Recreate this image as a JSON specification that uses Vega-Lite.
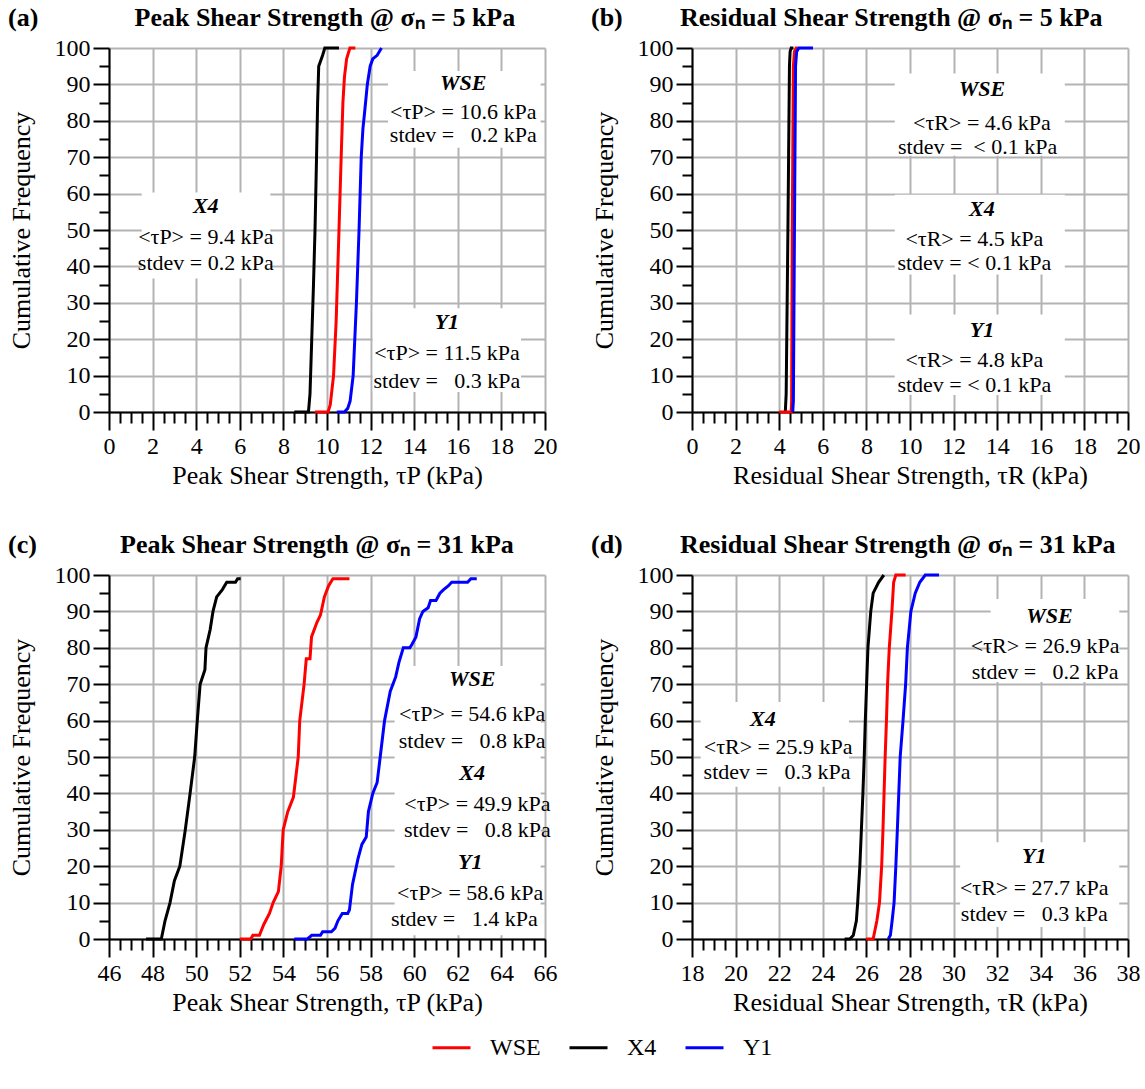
{
  "$schema": "https://vega.github.io/schema/vega-lite/v6.json",
  "background": "white",
  "padding": {"left": 8, "top": 5, "right": 0, "bottom": 10},
  "config": {
    "font": "Liberation Serif, Times New Roman, Times, serif",
    "view": {"stroke": null},
    "axis": {
      "labelFont": "Liberation Serif, Times New Roman, Times, serif", "labelFontSize": 24, "labelColor": "black",
      "titleFont": "Liberation Serif, Times New Roman, Times, serif", "titleFontSize": 26, "titleFontWeight": "normal", "titleColor": "black",
      "domainColor": "black", "domainWidth": 2, "tickColor": "black", "tickWidth": 2,
      "gridColor": "#b3b3b3", "gridWidth": 2, "labelOverlap": false, "labelFlush": false, "labelBound": false
    },
    "axisX": {"tickSize": 18, "labelPadding": 4, "titlePadding": 4},
    "axisY": {"tickSize": 16, "labelPadding": 3, "titlePadding": 20},
    "title": {"font": "Liberation Serif, Times New Roman, Times, serif", "fontSize": 26, "fontWeight": "bold", "anchor": "start", "frame": "bounds", "offset": 5, "color": "black"},
    "legend": {"orient": "none", "legendX": 322, "legendY": 979, "direction": "horizontal", "title": null, "labelFont": "Liberation Serif, Times New Roman, Times, serif", "labelFontSize": 24, "labelColor": "black", "symbolType": "stroke", "symbolSize": 1444, "symbolStrokeWidth": 3, "columnPadding": 22, "labelOffset": 18}
  },
  "datasets": {
    "curves": [
      {"panel":"a","series":"X4","i":0,"tau":8.5,"cf":0},{"panel":"a","series":"X4","i":1,"tau":9.15,"cf":0},{"panel":"a","series":"X4","i":2,"tau":9.22,"cf":5},{"panel":"a","series":"X4","i":3,"tau":9.3,"cf":20},{"panel":"a","series":"X4","i":4,"tau":9.38,"cf":35},{"panel":"a","series":"X4","i":5,"tau":9.45,"cf":50},{"panel":"a","series":"X4","i":6,"tau":9.52,"cf":70},{"panel":"a","series":"X4","i":7,"tau":9.57,"cf":85},{"panel":"a","series":"X4","i":8,"tau":9.62,"cf":95},{"panel":"a","series":"X4","i":9,"tau":9.8,"cf":98},{"panel":"a","series":"X4","i":10,"tau":9.9,"cf":100},{"panel":"a","series":"X4","i":11,"tau":10.55,"cf":100},
      {"panel":"a","series":"WSE","i":0,"tau":9.45,"cf":0},{"panel":"a","series":"WSE","i":1,"tau":10.05,"cf":0},{"panel":"a","series":"WSE","i":2,"tau":10.15,"cf":2},{"panel":"a","series":"WSE","i":3,"tau":10.3,"cf":10},{"panel":"a","series":"WSE","i":4,"tau":10.42,"cf":25},{"panel":"a","series":"WSE","i":5,"tau":10.55,"cf":50},{"panel":"a","series":"WSE","i":6,"tau":10.65,"cf":70},{"panel":"a","series":"WSE","i":7,"tau":10.73,"cf":85},{"panel":"a","series":"WSE","i":8,"tau":10.8,"cf":92},{"panel":"a","series":"WSE","i":9,"tau":10.9,"cf":97},{"panel":"a","series":"WSE","i":10,"tau":11.0,"cf":99},{"panel":"a","series":"WSE","i":11,"tau":11.05,"cf":100},{"panel":"a","series":"WSE","i":12,"tau":11.3,"cf":100},
      {"panel":"a","series":"Y1","i":0,"tau":10.45,"cf":0},{"panel":"a","series":"Y1","i":1,"tau":10.8,"cf":0},{"panel":"a","series":"Y1","i":2,"tau":10.95,"cf":1},{"panel":"a","series":"Y1","i":3,"tau":11.06,"cf":3},{"panel":"a","series":"Y1","i":4,"tau":11.2,"cf":10},{"panel":"a","series":"Y1","i":5,"tau":11.35,"cf":30},{"panel":"a","series":"Y1","i":6,"tau":11.47,"cf":50},{"panel":"a","series":"Y1","i":7,"tau":11.57,"cf":70},{"panel":"a","series":"Y1","i":8,"tau":11.65,"cf":78},{"panel":"a","series":"Y1","i":9,"tau":11.72,"cf":82},{"panel":"a","series":"Y1","i":10,"tau":11.85,"cf":90},{"panel":"a","series":"Y1","i":11,"tau":11.98,"cf":95},{"panel":"a","series":"Y1","i":12,"tau":12.1,"cf":97},{"panel":"a","series":"Y1","i":13,"tau":12.3,"cf":98},{"panel":"a","series":"Y1","i":14,"tau":12.5,"cf":100},
      {"panel":"b","series":"X4","i":0,"tau":4.28,"cf":0},{"panel":"b","series":"X4","i":1,"tau":4.32,"cf":5},{"panel":"b","series":"X4","i":2,"tau":4.4,"cf":50},{"panel":"b","series":"X4","i":3,"tau":4.47,"cf":95},{"panel":"b","series":"X4","i":4,"tau":4.5,"cf":99},{"panel":"b","series":"X4","i":5,"tau":4.55,"cf":100},{"panel":"b","series":"X4","i":6,"tau":4.65,"cf":100},
      {"panel":"b","series":"WSE","i":0,"tau":4.0,"cf":0},{"panel":"b","series":"WSE","i":1,"tau":4.55,"cf":0},{"panel":"b","series":"WSE","i":2,"tau":4.57,"cf":3},{"panel":"b","series":"WSE","i":3,"tau":4.6,"cf":50},{"panel":"b","series":"WSE","i":4,"tau":4.65,"cf":95},{"panel":"b","series":"WSE","i":5,"tau":4.7,"cf":99},{"panel":"b","series":"WSE","i":6,"tau":4.78,"cf":100},{"panel":"b","series":"WSE","i":7,"tau":4.85,"cf":100},
      {"panel":"b","series":"Y1","i":0,"tau":4.62,"cf":0},{"panel":"b","series":"Y1","i":1,"tau":4.65,"cf":3},{"panel":"b","series":"Y1","i":2,"tau":4.7,"cf":50},{"panel":"b","series":"Y1","i":3,"tau":4.75,"cf":95},{"panel":"b","series":"Y1","i":4,"tau":4.8,"cf":99},{"panel":"b","series":"Y1","i":5,"tau":4.9,"cf":100},{"panel":"b","series":"Y1","i":6,"tau":5.55,"cf":100},
      {"panel":"c","series":"X4","i":0,"tau":47.7,"cf":0},{"panel":"c","series":"X4","i":1,"tau":48.4,"cf":0},{"panel":"c","series":"X4","i":2,"tau":48.57,"cf":5},{"panel":"c","series":"X4","i":3,"tau":48.8,"cf":10},{"panel":"c","series":"X4","i":4,"tau":49.0,"cf":16},{"panel":"c","series":"X4","i":5,"tau":49.25,"cf":20},{"panel":"c","series":"X4","i":6,"tau":49.5,"cf":30},{"panel":"c","series":"X4","i":7,"tau":49.72,"cf":40},{"panel":"c","series":"X4","i":8,"tau":49.93,"cf":50},{"panel":"c","series":"X4","i":9,"tau":50.05,"cf":60},{"panel":"c","series":"X4","i":10,"tau":50.18,"cf":70},{"panel":"c","series":"X4","i":11,"tau":50.4,"cf":74},{"panel":"c","series":"X4","i":12,"tau":50.45,"cf":80},{"panel":"c","series":"X4","i":13,"tau":50.64,"cf":85},{"panel":"c","series":"X4","i":14,"tau":50.77,"cf":90},{"panel":"c","series":"X4","i":15,"tau":50.94,"cf":94},{"panel":"c","series":"X4","i":16,"tau":51.2,"cf":96},{"panel":"c","series":"X4","i":17,"tau":51.4,"cf":98},{"panel":"c","series":"X4","i":18,"tau":51.8,"cf":98},{"panel":"c","series":"X4","i":19,"tau":51.9,"cf":99},{"panel":"c","series":"X4","i":20,"tau":52.04,"cf":99},
      {"panel":"c","series":"WSE","i":0,"tau":52.0,"cf":0},{"panel":"c","series":"WSE","i":1,"tau":52.5,"cf":0},{"panel":"c","series":"WSE","i":2,"tau":52.6,"cf":1},{"panel":"c","series":"WSE","i":3,"tau":52.9,"cf":1},{"panel":"c","series":"WSE","i":4,"tau":53.1,"cf":4},{"panel":"c","series":"WSE","i":5,"tau":53.36,"cf":7},{"panel":"c","series":"WSE","i":6,"tau":53.53,"cf":10},{"panel":"c","series":"WSE","i":7,"tau":53.77,"cf":13},{"panel":"c","series":"WSE","i":8,"tau":53.9,"cf":20},{"panel":"c","series":"WSE","i":9,"tau":53.99,"cf":30},{"panel":"c","series":"WSE","i":10,"tau":54.2,"cf":35},{"panel":"c","series":"WSE","i":11,"tau":54.46,"cf":39},{"panel":"c","series":"WSE","i":12,"tau":54.68,"cf":50},{"panel":"c","series":"WSE","i":13,"tau":54.75,"cf":60},{"panel":"c","series":"WSE","i":14,"tau":54.95,"cf":70},{"panel":"c","series":"WSE","i":15,"tau":55.05,"cf":77},{"panel":"c","series":"WSE","i":16,"tau":55.22,"cf":77},{"panel":"c","series":"WSE","i":17,"tau":55.29,"cf":83},{"panel":"c","series":"WSE","i":18,"tau":55.54,"cf":87},{"panel":"c","series":"WSE","i":19,"tau":55.7,"cf":89},{"panel":"c","series":"WSE","i":20,"tau":55.88,"cf":94},{"panel":"c","series":"WSE","i":21,"tau":56.07,"cf":97},{"panel":"c","series":"WSE","i":22,"tau":56.27,"cf":99},{"panel":"c","series":"WSE","i":23,"tau":57.03,"cf":99},
      {"panel":"c","series":"Y1","i":0,"tau":54.5,"cf":0},{"panel":"c","series":"Y1","i":1,"tau":55.1,"cf":0},{"panel":"c","series":"Y1","i":2,"tau":55.3,"cf":1},{"panel":"c","series":"Y1","i":3,"tau":55.7,"cf":1},{"panel":"c","series":"Y1","i":4,"tau":55.8,"cf":2},{"panel":"c","series":"Y1","i":5,"tau":56.2,"cf":2},{"panel":"c","series":"Y1","i":6,"tau":56.37,"cf":3},{"panel":"c","series":"Y1","i":7,"tau":56.5,"cf":5},{"panel":"c","series":"Y1","i":8,"tau":56.7,"cf":7},{"panel":"c","series":"Y1","i":9,"tau":56.95,"cf":7},{"panel":"c","series":"Y1","i":10,"tau":57.03,"cf":8},{"panel":"c","series":"Y1","i":11,"tau":57.17,"cf":15},{"panel":"c","series":"Y1","i":12,"tau":57.42,"cf":22},{"panel":"c","series":"Y1","i":13,"tau":57.6,"cf":26},{"panel":"c","series":"Y1","i":14,"tau":57.8,"cf":28},{"panel":"c","series":"Y1","i":15,"tau":57.9,"cf":35},{"panel":"c","series":"Y1","i":16,"tau":58.1,"cf":40},{"panel":"c","series":"Y1","i":17,"tau":58.3,"cf":43},{"panel":"c","series":"Y1","i":18,"tau":58.44,"cf":50},{"panel":"c","series":"Y1","i":19,"tau":58.64,"cf":60},{"panel":"c","series":"Y1","i":20,"tau":58.9,"cf":68},{"panel":"c","series":"Y1","i":21,"tau":59.15,"cf":72},{"panel":"c","series":"Y1","i":22,"tau":59.3,"cf":76},{"panel":"c","series":"Y1","i":23,"tau":59.5,"cf":80},{"panel":"c","series":"Y1","i":24,"tau":59.8,"cf":80},{"panel":"c","series":"Y1","i":25,"tau":59.9,"cf":81},{"panel":"c","series":"Y1","i":26,"tau":60.08,"cf":83},{"panel":"c","series":"Y1","i":27,"tau":60.25,"cf":88},{"panel":"c","series":"Y1","i":28,"tau":60.4,"cf":90},{"panel":"c","series":"Y1","i":29,"tau":60.64,"cf":91},{"panel":"c","series":"Y1","i":30,"tau":60.75,"cf":93},{"panel":"c","series":"Y1","i":31,"tau":61.0,"cf":93},{"panel":"c","series":"Y1","i":32,"tau":61.18,"cf":95},{"panel":"c","series":"Y1","i":33,"tau":61.35,"cf":96},{"panel":"c","series":"Y1","i":34,"tau":61.56,"cf":97},{"panel":"c","series":"Y1","i":35,"tau":61.72,"cf":98},{"panel":"c","series":"Y1","i":36,"tau":62.45,"cf":98},{"panel":"c","series":"Y1","i":37,"tau":62.6,"cf":99},{"panel":"c","series":"Y1","i":38,"tau":62.87,"cf":99},
      {"panel":"d","series":"X4","i":0,"tau":25.0,"cf":0},{"panel":"d","series":"X4","i":1,"tau":25.24,"cf":0},{"panel":"d","series":"X4","i":2,"tau":25.4,"cf":1},{"panel":"d","series":"X4","i":3,"tau":25.54,"cf":5},{"panel":"d","series":"X4","i":4,"tau":25.6,"cf":10},{"panel":"d","series":"X4","i":5,"tau":25.7,"cf":20},{"panel":"d","series":"X4","i":6,"tau":25.77,"cf":30},{"panel":"d","series":"X4","i":7,"tau":25.84,"cf":40},{"panel":"d","series":"X4","i":8,"tau":25.9,"cf":50},{"panel":"d","series":"X4","i":9,"tau":25.95,"cf":60},{"panel":"d","series":"X4","i":10,"tau":26.07,"cf":80},{"panel":"d","series":"X4","i":11,"tau":26.2,"cf":90},{"panel":"d","series":"X4","i":12,"tau":26.31,"cf":95},{"panel":"d","series":"X4","i":13,"tau":26.56,"cf":98},{"panel":"d","series":"X4","i":14,"tau":26.8,"cf":100},
      {"panel":"d","series":"WSE","i":0,"tau":25.98,"cf":0},{"panel":"d","series":"WSE","i":1,"tau":26.31,"cf":0},{"panel":"d","series":"WSE","i":2,"tau":26.48,"cf":5},{"panel":"d","series":"WSE","i":3,"tau":26.6,"cf":10},{"panel":"d","series":"WSE","i":4,"tau":26.7,"cf":20},{"panel":"d","series":"WSE","i":5,"tau":26.76,"cf":30},{"panel":"d","series":"WSE","i":6,"tau":26.86,"cf":50},{"panel":"d","series":"WSE","i":7,"tau":26.92,"cf":60},{"panel":"d","series":"WSE","i":8,"tau":26.97,"cf":70},{"panel":"d","series":"WSE","i":9,"tau":27.05,"cf":80},{"panel":"d","series":"WSE","i":10,"tau":27.17,"cf":90},{"panel":"d","series":"WSE","i":11,"tau":27.25,"cf":98},{"panel":"d","series":"WSE","i":12,"tau":27.35,"cf":100},{"panel":"d","series":"WSE","i":13,"tau":27.8,"cf":100},
      {"panel":"d","series":"Y1","i":0,"tau":27.0,"cf":0},{"panel":"d","series":"Y1","i":1,"tau":27.1,"cf":1},{"panel":"d","series":"Y1","i":2,"tau":27.18,"cf":5},{"panel":"d","series":"Y1","i":3,"tau":27.27,"cf":10},{"panel":"d","series":"Y1","i":4,"tau":27.35,"cf":20},{"panel":"d","series":"Y1","i":5,"tau":27.42,"cf":30},{"panel":"d","series":"Y1","i":6,"tau":27.55,"cf":50},{"panel":"d","series":"Y1","i":7,"tau":27.68,"cf":60},{"panel":"d","series":"Y1","i":8,"tau":27.8,"cf":70},{"panel":"d","series":"Y1","i":9,"tau":27.88,"cf":80},{"panel":"d","series":"Y1","i":10,"tau":28.04,"cf":90},{"panel":"d","series":"Y1","i":11,"tau":28.24,"cf":95},{"panel":"d","series":"Y1","i":12,"tau":28.45,"cf":98},{"panel":"d","series":"Y1","i":13,"tau":28.7,"cf":100},{"panel":"d","series":"Y1","i":14,"tau":29.33,"cf":100}
    ],
    "notes": [
      {"panel":"a","kind":"name","text":"WSE","tau":16.25,"cf":90.4},{"panel":"a","kind":"stat","text":"<τP> = 10.6 kPa","tau":16.25,"cf":82.5},{"panel":"a","kind":"stat","text":"stdev =\u00a0\u00a0 0.2 kPa","tau":16.25,"cf":76.2},
      {"panel":"a","kind":"name","text":"X4","tau":4.44,"cf":56.7},{"panel":"a","kind":"stat","text":"<τP> = 9.4 kPa","tau":4.44,"cf":48.2},{"panel":"a","kind":"stat","text":"stdev = 0.2 kPa","tau":4.44,"cf":40.8},
      {"panel":"a","kind":"name","text":"Y1","tau":15.5,"cf":24.7},{"panel":"a","kind":"stat","text":"<τP> = 11.5 kPa","tau":15.5,"cf":16.2},{"panel":"a","kind":"stat","text":"stdev =\u00a0\u00a0 0.3 kPa","tau":15.5,"cf":8.5},
      {"panel":"b","kind":"name","text":"WSE","tau":13.3,"cf":88.8},{"panel":"b","kind":"stat","text":"<τR> = 4.6 kPa","tau":13.3,"cf":79.5},{"panel":"b","kind":"stat","text":"stdev =\u00a0 < 0.1 kPa","tau":13.1,"cf":72.9},
      {"panel":"b","kind":"name","text":"X4","tau":13.3,"cf":55.9},{"panel":"b","kind":"stat","text":"<τR> = 4.5 kPa","tau":12.95,"cf":47.4},{"panel":"b","kind":"stat","text":"stdev = < 0.1 kPa","tau":12.95,"cf":40.8},
      {"panel":"b","kind":"name","text":"Y1","tau":13.3,"cf":22.5},{"panel":"b","kind":"stat","text":"<τR> = 4.8 kPa","tau":12.95,"cf":14.2},{"panel":"b","kind":"stat","text":"stdev = < 0.1 kPa","tau":12.95,"cf":7.4},
      {"panel":"c","kind":"name","text":"WSE","tau":62.66,"cf":71.3},{"panel":"c","kind":"stat","text":"<τP> = 54.6 kPa","tau":62.66,"cf":61.7},{"panel":"c","kind":"stat","text":"stdev =\u00a0\u00a0 0.8 kPa","tau":62.66,"cf":54.5},
      {"panel":"c","kind":"name","text":"X4","tau":62.66,"cf":45.7},{"panel":"c","kind":"stat","text":"<τP> = 49.9 kPa","tau":62.9,"cf":37.2},{"panel":"c","kind":"stat","text":"stdev =\u00a0\u00a0 0.8 kPa","tau":62.9,"cf":30.0},
      {"panel":"c","kind":"name","text":"Y1","tau":62.57,"cf":21.2},{"panel":"c","kind":"stat","text":"<τP> = 58.6 kPa","tau":62.57,"cf":12.7},{"panel":"c","kind":"stat","text":"stdev =\u00a0\u00a0 1.4 kPa","tau":62.3,"cf":5.5},
      {"panel":"d","kind":"name","text":"WSE","tau":34.4,"cf":88.7},{"panel":"d","kind":"stat","text":"<τR> = 26.9 kPa","tau":34.2,"cf":80.5},{"panel":"d","kind":"stat","text":"stdev =\u00a0\u00a0 0.2 kPa","tau":34.2,"cf":73.4},
      {"panel":"d","kind":"name","text":"X4","tau":21.25,"cf":60.4},{"panel":"d","kind":"stat","text":"<τR> = 25.9 kPa","tau":21.95,"cf":52.7},{"panel":"d","kind":"stat","text":"stdev =\u00a0\u00a0 0.3 kPa","tau":21.9,"cf":45.9},
      {"panel":"d","kind":"name","text":"Y1","tau":33.7,"cf":22.8},{"panel":"d","kind":"stat","text":"<τR> = 27.7 kPa","tau":33.7,"cf":14.0},{"panel":"d","kind":"stat","text":"stdev =\u00a0\u00a0 0.3 kPa","tau":33.7,"cf":6.9}
    ],
    "boxes": [
      {"panel":"a","tau":12.8,"tau2":19.8,"cf":72.6,"cf2":93.7},{"panel":"a","tau":1.5,"tau2":7.4,"cf":36.7,"cf2":60.3},{"panel":"a","tau":12.1,"tau2":18.9,"cf":5.5,"cf2":28.5},
      {"panel":"b","tau":9.3,"tau2":17.1,"cf":70.4,"cf2":93},{"panel":"b","tau":9.3,"tau2":17.1,"cf":37.8,"cf2":59.7},{"panel":"b","tau":9.3,"tau2":17.1,"cf":4.7,"cf2":26.8},
      {"panel":"c","tau":59.1,"tau2":65.8,"cf":1,"cf2":75},
      {"panel":"d","tau":31.7,"tau2":37.6,"cf":70.6,"cf2":93.4},{"panel":"d","tau":18.4,"tau2":25.2,"cf":41.8,"cf2":65.1},{"panel":"d","tau":30.3,"tau2":37.6,"cf":3.3,"cf2":26.6}
    ]
  },
  "vconcat": [
    {"hconcat": [
      {"width": 436, "height": 364,
       "title": "(a)\u2003\u2003\u2003\u2002\u2009Peak Shear Strength @ σₙ = 5 kPa",
       "encoding": {
         "x": {"field": "tau", "type": "quantitative", "title": "Peak Shear Strength, τP (kPa)", "scale": {"domain": [0, 20], "nice": false},
               "axis": {"values": [0,0.5,1,1.5,2,2.5,3,3.5,4,4.5,5,5.5,6,6.5,7,7.5,8,8.5,9,9.5,10,10.5,11,11.5,12,12.5,13,13.5,14,14.5,15,15.5,16,16.5,17,17.5,18,18.5,19,19.5,20],
                        "labelExpr": "datum.value % 2 === 0 ? '' + datum.value : ''",
                        "tickSize": {"condition": {"test": "datum.value % 2 === 0", "value": 18}, "value": 11},
                        "gridOpacity": {"condition": {"test": "datum.value % 2 === 0", "value": 1}, "value": 0}}},
         "y": {"field": "cf", "type": "quantitative", "title": "Cumulative Frequency", "scale": {"domain": [0, 100], "nice": false},
               "axis": {"values": [0,5,10,15,20,25,30,35,40,45,50,55,60,65,70,75,80,85,90,95,100],
                        "labelExpr": "datum.value % 10 === 0 ? '' + datum.value : ''",
                        "tickSize": {"condition": {"test": "datum.value % 10 === 0", "value": 16}, "value": 10},
                        "gridOpacity": {"condition": {"test": "datum.value % 10 === 0", "value": 1}, "value": 0}}}
       },
       "layer": [
         {"data": {"name": "boxes"}, "transform": [{"filter": "datum.panel === 'a'"}], "mark": {"type": "rect", "fill": "white", "stroke": null},
          "encoding": {"x2": {"field": "tau2"}, "y2": {"field": "cf2"}}},
         {"data": {"name": "curves"}, "transform": [{"filter": "datum.panel === 'a'"}], "mark": {"type": "line", "strokeWidth": 3},
          "encoding": {"color": {"field": "series", "type": "nominal", "scale": {"domain": ["WSE", "X4", "Y1"], "range": ["#ff0000", "#000000", "#0000ff"]}}, "order": {"field": "i", "type": "quantitative"}}},
         {"data": {"name": "notes"}, "transform": [{"filter": "datum.panel === 'a' && datum.kind === 'name'"}], "mark": {"type": "text", "fontSize": 22, "fontWeight": "bold", "fontStyle": "italic", "color": "black"},
          "encoding": {"text": {"field": "text"}}},
         {"data": {"name": "notes"}, "transform": [{"filter": "datum.panel === 'a' && datum.kind === 'stat'"}], "mark": {"type": "text", "fontSize": 22, "color": "black"},
          "encoding": {"text": {"field": "text"}}}
       ]},
      {"width": 436, "height": 364,
       "title": "(b)\u2003\u2003\u2009Residual Shear Strength @ σₙ = 5 kPa",
       "encoding": {
         "x": {"field": "tau", "type": "quantitative", "title": "Residual Shear Strength, τR (kPa)", "scale": {"domain": [0, 20], "nice": false},
               "axis": {"values": [0,0.5,1,1.5,2,2.5,3,3.5,4,4.5,5,5.5,6,6.5,7,7.5,8,8.5,9,9.5,10,10.5,11,11.5,12,12.5,13,13.5,14,14.5,15,15.5,16,16.5,17,17.5,18,18.5,19,19.5,20],
                        "labelExpr": "datum.value % 2 === 0 ? '' + datum.value : ''",
                        "tickSize": {"condition": {"test": "datum.value % 2 === 0", "value": 18}, "value": 11},
                        "gridOpacity": {"condition": {"test": "datum.value % 2 === 0", "value": 1}, "value": 0}}},
         "y": {"field": "cf", "type": "quantitative", "title": "Cumulative Frequency", "scale": {"domain": [0, 100], "nice": false},
               "axis": {"values": [0,5,10,15,20,25,30,35,40,45,50,55,60,65,70,75,80,85,90,95,100],
                        "labelExpr": "datum.value % 10 === 0 ? '' + datum.value : ''",
                        "tickSize": {"condition": {"test": "datum.value % 10 === 0", "value": 16}, "value": 10},
                        "gridOpacity": {"condition": {"test": "datum.value % 10 === 0", "value": 1}, "value": 0}}}
       },
       "layer": [
         {"data": {"name": "boxes"}, "transform": [{"filter": "datum.panel === 'b'"}], "mark": {"type": "rect", "fill": "white", "stroke": null},
          "encoding": {"x2": {"field": "tau2"}, "y2": {"field": "cf2"}}},
         {"data": {"name": "curves"}, "transform": [{"filter": "datum.panel === 'b'"}], "mark": {"type": "line", "strokeWidth": 3},
          "encoding": {"color": {"field": "series", "type": "nominal", "scale": {"domain": ["WSE", "X4", "Y1"], "range": ["#ff0000", "#000000", "#0000ff"]}}, "order": {"field": "i", "type": "quantitative"}}},
         {"data": {"name": "notes"}, "transform": [{"filter": "datum.panel === 'b' && datum.kind === 'name'"}], "mark": {"type": "text", "fontSize": 22, "fontWeight": "bold", "fontStyle": "italic", "color": "black"},
          "encoding": {"text": {"field": "text"}}},
         {"data": {"name": "notes"}, "transform": [{"filter": "datum.panel === 'b' && datum.kind === 'stat'"}], "mark": {"type": "text", "fontSize": 22, "color": "black"},
          "encoding": {"text": {"field": "text"}}}
       ]}
    ], "spacing": 34},
    {"hconcat": [
      {"width": 436, "height": 364,
       "title": "(c)\u2003\u2003\u2003\u2009Peak Shear Strength @ σₙ = 31 kPa",
       "encoding": {
         "x": {"field": "tau", "type": "quantitative", "title": "Peak Shear Strength, τP (kPa)", "scale": {"domain": [46, 66], "nice": false},
               "axis": {"values": [46,46.5,47,47.5,48,48.5,49,49.5,50,50.5,51,51.5,52,52.5,53,53.5,54,54.5,55,55.5,56,56.5,57,57.5,58,58.5,59,59.5,60,60.5,61,61.5,62,62.5,63,63.5,64,64.5,65,65.5,66],
                        "labelExpr": "datum.value % 2 === 0 ? '' + datum.value : ''",
                        "tickSize": {"condition": {"test": "datum.value % 2 === 0", "value": 18}, "value": 11},
                        "gridOpacity": {"condition": {"test": "datum.value % 2 === 0", "value": 1}, "value": 0}}},
         "y": {"field": "cf", "type": "quantitative", "title": "Cumulative Frequency", "scale": {"domain": [0, 100], "nice": false},
               "axis": {"values": [0,5,10,15,20,25,30,35,40,45,50,55,60,65,70,75,80,85,90,95,100],
                        "labelExpr": "datum.value % 10 === 0 ? '' + datum.value : ''",
                        "tickSize": {"condition": {"test": "datum.value % 10 === 0", "value": 16}, "value": 10},
                        "gridOpacity": {"condition": {"test": "datum.value % 10 === 0", "value": 1}, "value": 0}}}
       },
       "layer": [
         {"data": {"name": "boxes"}, "transform": [{"filter": "datum.panel === 'c'"}], "mark": {"type": "rect", "fill": "white", "stroke": null},
          "encoding": {"x2": {"field": "tau2"}, "y2": {"field": "cf2"}}},
         {"data": {"name": "curves"}, "transform": [{"filter": "datum.panel === 'c'"}], "mark": {"type": "line", "strokeWidth": 3},
          "encoding": {"color": {"field": "series", "type": "nominal", "scale": {"domain": ["WSE", "X4", "Y1"], "range": ["#ff0000", "#000000", "#0000ff"]}}, "order": {"field": "i", "type": "quantitative"}}},
         {"data": {"name": "notes"}, "transform": [{"filter": "datum.panel === 'c' && datum.kind === 'name'"}], "mark": {"type": "text", "fontSize": 22, "fontWeight": "bold", "fontStyle": "italic", "color": "black"},
          "encoding": {"text": {"field": "text"}}},
         {"data": {"name": "notes"}, "transform": [{"filter": "datum.panel === 'c' && datum.kind === 'stat'"}], "mark": {"type": "text", "fontSize": 22, "color": "black"},
          "encoding": {"text": {"field": "text"}}}
       ]},
      {"width": 436, "height": 364,
       "title": "(d)\u2003\u2003\u2009Residual Shear Strength @ σₙ = 31 kPa",
       "encoding": {
         "x": {"field": "tau", "type": "quantitative", "title": "Residual Shear Strength, τR (kPa)", "scale": {"domain": [18, 38], "nice": false},
               "axis": {"values": [18,18.5,19,19.5,20,20.5,21,21.5,22,22.5,23,23.5,24,24.5,25,25.5,26,26.5,27,27.5,28,28.5,29,29.5,30,30.5,31,31.5,32,32.5,33,33.5,34,34.5,35,35.5,36,36.5,37,37.5,38],
                        "labelExpr": "datum.value % 2 === 0 ? '' + datum.value : ''",
                        "tickSize": {"condition": {"test": "datum.value % 2 === 0", "value": 18}, "value": 11},
                        "gridOpacity": {"condition": {"test": "datum.value % 2 === 0", "value": 1}, "value": 0}}},
         "y": {"field": "cf", "type": "quantitative", "title": "Cumulative Frequency", "scale": {"domain": [0, 100], "nice": false},
               "axis": {"values": [0,5,10,15,20,25,30,35,40,45,50,55,60,65,70,75,80,85,90,95,100],
                        "labelExpr": "datum.value % 10 === 0 ? '' + datum.value : ''",
                        "tickSize": {"condition": {"test": "datum.value % 10 === 0", "value": 16}, "value": 10},
                        "gridOpacity": {"condition": {"test": "datum.value % 10 === 0", "value": 1}, "value": 0}}}
       },
       "layer": [
         {"data": {"name": "boxes"}, "transform": [{"filter": "datum.panel === 'd'"}], "mark": {"type": "rect", "fill": "white", "stroke": null},
          "encoding": {"x2": {"field": "tau2"}, "y2": {"field": "cf2"}}},
         {"data": {"name": "curves"}, "transform": [{"filter": "datum.panel === 'd'"}], "mark": {"type": "line", "strokeWidth": 3},
          "encoding": {"color": {"field": "series", "type": "nominal", "scale": {"domain": ["WSE", "X4", "Y1"], "range": ["#ff0000", "#000000", "#0000ff"]}}, "order": {"field": "i", "type": "quantitative"}}},
         {"data": {"name": "notes"}, "transform": [{"filter": "datum.panel === 'd' && datum.kind === 'name'"}], "mark": {"type": "text", "fontSize": 22, "fontWeight": "bold", "fontStyle": "italic", "color": "black"},
          "encoding": {"text": {"field": "text"}}},
         {"data": {"name": "notes"}, "transform": [{"filter": "datum.panel === 'd' && datum.kind === 'stat'"}], "mark": {"type": "text", "fontSize": 22, "color": "black"},
          "encoding": {"text": {"field": "text"}}}
       ]}
    ], "spacing": 34}
  ],
  "spacing": 44
}
